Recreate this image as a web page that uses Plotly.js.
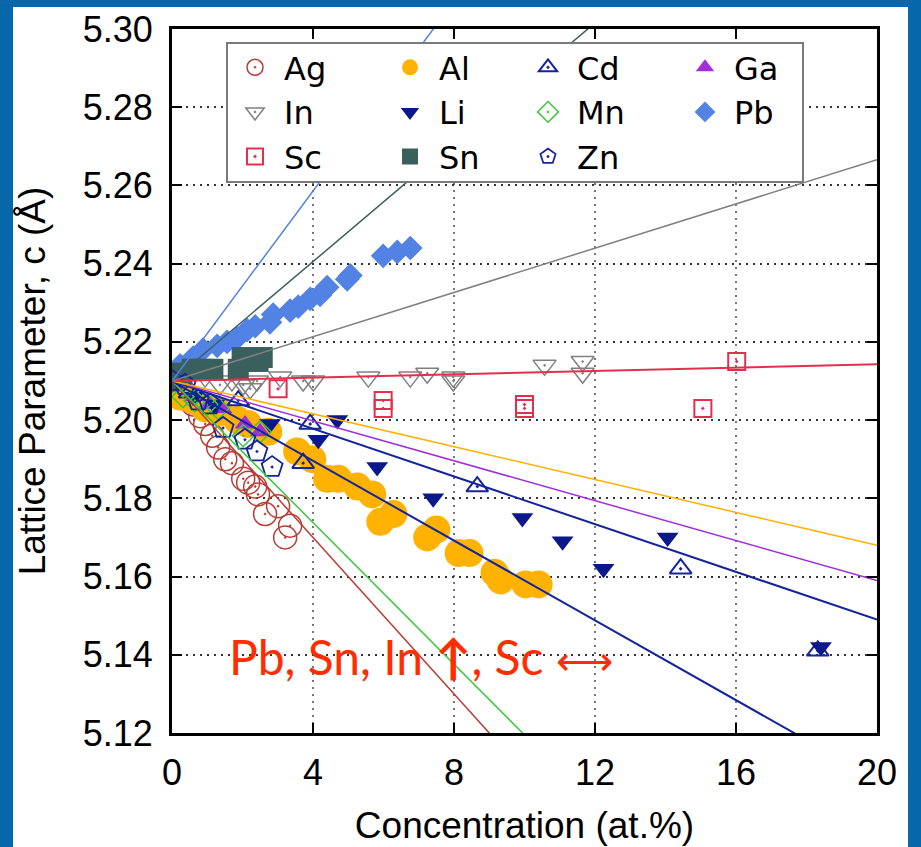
<!DOCTYPE html>
<html>
<head>
<meta charset="utf-8">
<script src="https://cdn.plot.ly/plotly-3.0.1.min.js"></script>
<style>html,body{margin:0;padding:0;background:#0767ab;}</style>
</head>
<body>
<div id="chart" style="width:921px;height:847px"></div>
<script>
// Measured c lattice parameter of Mg alloys vs solute concentration (at.%)
const agX = [0, 0.37, 0.60, 0.80, 0.94, 1.14, 1.31, 1.51, 1.70, 2.02, 2.16, 2.36, 2.44, 2.64, 3.01, 3.21, 3.35];
const agY = [5.210, 5.207, 5.204, 5.201, 5.199, 5.196, 5.193, 5.190, 5.189, 5.185, 5.184, 5.183, 5.181, 5.176, 5.178, 5.170, 5.173];

const alX = [0, 0.23, 0.60, 0.94, 1.36, 1.85, 2.16, 2.73, 3.55, 3.98, 4.40, 4.72, 5.26, 5.68, 5.91, 6.28, 7.24, 7.50, 8.13, 8.44, 9.15, 9.32, 10.03, 10.40];
const alY = [5.210, 5.206, 5.205, 5.203, 5.202, 5.200, 5.199, 5.197, 5.192, 5.190, 5.185, 5.185, 5.183, 5.181, 5.174, 5.176, 5.170, 5.172, 5.166, 5.166, 5.161, 5.159, 5.158, 5.158];

const cdX = [0, 0.50, 1.88, 3.72, 3.92, 8.66, 14.43, 18.32];
const cdY = [5.210, 5.207, 5.205, 5.189, 5.199, 5.183, 5.162, 5.141];

const gaX = [0, 0.65, 1.08, 1.42, 2.07, 2.50];
const gaY = [5.210, 5.206, 5.204, 5.203, 5.199, 5.197];

const inX = [0, 0.94, 1.36, 1.70, 2.02, 2.22, 2.41, 3.07, 3.72, 4.01, 5.57, 6.76, 7.24, 7.98, 7.98, 10.57, 11.65, 11.65];
const inY = [5.210, 5.211, 5.209, 5.210, 5.209, 5.208, 5.210, 5.211, 5.210, 5.210, 5.211, 5.211, 5.212, 5.211, 5.210, 5.214, 5.215, 5.212];

const liX = [0, 0.60, 1.20, 2.78, 4.15, 4.69, 5.82, 7.41, 9.94, 11.08, 12.24, 14.06, 18.41];
const liY = [5.210, 5.206, 5.204, 5.199, 5.195, 5.200, 5.188, 5.180, 5.175, 5.169, 5.162, 5.170, 5.142];

const mnX = [0, 0.31, 0.65, 0.99, 1.31, 2.02, 2.50];
const mnY = [5.210, 5.206, 5.205, 5.204, 5.203, 5.196, 5.197];

const pbX = [0, 0.23, 0.60, 0.88, 1.28, 1.56, 1.85, 2.13, 2.36, 2.78, 2.87, 3.35, 3.58, 3.92, 4.20, 4.40, 4.97, 5.06, 5.99, 6.39, 6.76];
const pbY = [5.210, 5.214, 5.216, 5.218, 5.219, 5.220, 5.221, 5.223, 5.224, 5.225, 5.227, 5.228, 5.229, 5.231, 5.232, 5.234, 5.236, 5.237, 5.242, 5.243, 5.244];

const scX = [0, 3.01, 5.99, 5.99, 10.00, 10.00, 15.06, 16.02];
const scY = [5.210, 5.208, 5.205, 5.203, 5.204, 5.203, 5.203, 5.215];

const snX = [0, 0.28, 0.57, 0.88, 1.16, 1.88, 1.99, 2.30, 2.44, 2.56];
const snY = [5.210, 5.212, 5.213, 5.213, 5.213, 5.213, 5.216, 5.215, 5.215, 5.216];

const znX = [0, 0.37, 0.74, 1.08, 1.45, 2.07, 2.41, 2.84];
const znY = [5.210, 5.209, 5.205, 5.204, 5.198, 5.195, 5.192, 5.188];

// Straight-line trends: value at pure Mg and value reached at 20 at.%
const trendX = [0, 20];
const trendStart = 5.210;
const trendNames = ['Ag', 'Mn', 'Zn', 'Li', 'Ga', 'Al', 'Sc', 'In', 'Sn', 'Pb'];
const trendEnd   = [5.010, 5.029, 5.108, 5.149, 5.159, 5.168, 5.2143, 5.2666, 5.3626, 5.4528];

// Series styling
const series = [
  {name: 'Ag', x: agX, y: agY, symbol: 'circle-open-dot',        color: '#b83c34', size: 23, lw: 1.5, legend: 'legend'},
  {name: 'Al', x: alX, y: alY, symbol: 'circle',                 color: '#ffb300', size: 28, lw: 0,   legend: 'legend2'},
  {name: 'Cd', x: cdX, y: cdY, symbol: 'triangle-up-open-dot',   color: '#14249a', size: 19, lw: 2,   legend: 'legend3'},
  {name: 'Ga', x: gaX, y: gaY, symbol: 'triangle-up',            color: '#a22ddc', size: 18, lw: 0,   legend: 'legend4'},
  {name: 'In', x: inX, y: inY, symbol: 'triangle-down-open-dot', color: '#808080', size: 20, lw: 1.5, legend: 'legend'},
  {name: 'Li', x: liX, y: liY, symbol: 'triangle-down',          color: '#0a188c', size: 19, lw: 0,   legend: 'legend2'},
  {name: 'Mn', x: mnX, y: mnY, symbol: 'diamond-open-dot',       color: '#3cc83c', size: 17, lw: 1.5, legend: 'legend3'},
  {name: 'Pb', x: pbX, y: pbY, symbol: 'diamond',                color: '#5282e4', size: 19, lw: 0,   legend: 'legend4'},
  {name: 'Sc', x: scX, y: scY, symbol: 'square-open-dot',        color: '#e0304e', size: 17, lw: 2,   legend: 'legend'},
  {name: 'Sn', x: snX, y: snY, symbol: 'square',                 color: '#3a605e', size: 21, lw: 0,   legend: 'legend2'},
  {name: 'Zn', x: znX, y: znY, symbol: 'pentagon-open-dot',      color: '#14249a', size: 22, lw: 1.8, legend: 'legend3'}
];

const trendColors = {
  Ag: '#b83c34', Mn: '#3cc83c', Zn: '#14249a', Li: '#14249a', Ga: '#a22ddc',
  Al: '#ffb000', Sc: '#e0304e', In: '#808080', Sn: '#3a605e', Pb: '#5282e4'
};
const trendWidths = {Ag: 1.5, Mn: 1.5, Zn: 2, Li: 2, Ga: 1.5, Al: 1.5, Sc: 2, In: 1.5, Sn: 1.5, Pb: 1.5};

const traces = [];
series.forEach(s => {
  traces.push({
    type: 'scatter', mode: 'markers', name: s.name, x: s.x, y: s.y,
    legend: s.legend,
    marker: {symbol: s.symbol, size: s.size, color: s.color,
             line: {color: s.color, width: s.lw}},
    cliponaxis: true
  });
});
trendNames.forEach((n, i) => {
  traces.push({
    type: 'scatter', mode: 'lines', name: n + ' trend', showlegend: false,
    x: trendX, y: [trendStart, trendEnd[i]],
    line: {color: trendColors[n], width: trendWidths[n]}
  });
});

const tickFont = {family: 'Liberation Sans, Arial, sans-serif', size: 36, color: '#000'};
const legendBase = {
  xanchor: 'left', yanchor: 'top', bgcolor: 'rgba(0,0,0,0)', borderwidth: 0,
  itemwidth: 48, tracegroupgap: 0,
  font: {family: 'DejaVu Sans, sans-serif', size: 32, color: '#000'}
};
const plotL = 172, plotR = 877, plotT = 29, plotB = 733;
const px2x = p => (p - plotL) / (plotR - plotL);
const px2y = p => (plotB - p) / (plotB - plotT);

const layout = {
  width: 921, height: 847,
  paper_bgcolor: '#0767ab', plot_bgcolor: '#ffffff',
  margin: {l: plotL, r: 921 - plotR, t: plotT, b: 847 - plotB, pad: 0},
  showlegend: true,
  hovermode: false,
  xaxis: {
    range: [0, 20], tickvals: [0, 4, 8, 12, 16, 20], ticktext: ['0', '4', '8', '12', '16', '20'],
    ticks: 'inside', ticklen: 10, tickwidth: 2, tickcolor: '#000',
    showline: true, linewidth: 3, linecolor: '#000', mirror: 'ticks',
    showgrid: true, gridcolor: '#777', gridwidth: 2, griddash: '2px,5px',
    zeroline: false, tickfont: tickFont, ticklabelstandoff: 6,
    title: {text: 'Concentration (at.%)', font: {family: 'Liberation Sans, Arial, sans-serif', size: 37, color: '#000'}, standoff: 20}
  },
  yaxis: {
    range: [5.12, 5.30], dtick: 0.02, tick0: 5.12, tickformat: '.2f',
    ticks: 'inside', ticklen: 10, tickwidth: 2, tickcolor: '#000',
    showline: true, linewidth: 3, linecolor: '#000', mirror: 'ticks',
    showgrid: true, gridcolor: '#333', gridwidth: 2, griddash: '2px,5px',
    zeroline: false, tickfont: tickFont, ticklabelstandoff: 9,
    title: {text: 'Lattice Parameter, c (Å)', font: {family: 'Liberation Sans, Arial, sans-serif', size: 37, color: '#000'}, standoff: 26}
  },
  legend:  Object.assign({}, legendBase, {x: px2x(226), y: px2y(40)}),
  legend2: Object.assign({}, legendBase, {x: px2x(381), y: px2y(40)}),
  legend3: Object.assign({}, legendBase, {x: px2x(519), y: px2y(40)}),
  legend4: Object.assign({}, legendBase, {x: px2x(676), y: px2y(40)}),
  shapes: [
    // white card behind the whole figure, inside the blue frame
    {type: 'rect', xref: 'paper', yref: 'paper', layer: 'below',
     x0: px2x(13), x1: px2x(908), y0: px2y(900), y1: px2y(7),
     fillcolor: '#ffffff', line: {width: 0}},
    // key box
    {type: 'rect', xref: 'paper', yref: 'paper', layer: 'above',
     x0: px2x(227), x1: px2x(803), y0: px2y(182), y1: px2y(43),
     fillcolor: '#ffffff', line: {color: '#7a7a7a', width: 2}}
  ],
  annotations: [
    {xref: 'x', yref: 'y', x: 1.55, y: 5.1395, xanchor: 'left', yanchor: 'middle', showarrow: false,
     text: 'Pb, Sn, In <b>↑</b>, Sc <span style="font-size:40px">⟷</span>',
     font: {family: 'Lato, sans-serif', size: 48, color: '#ff2d00'}}
  ]
};

Plotly.newPlot('chart', traces, layout, {staticPlot: true, displayModeBar: false});
</script>
</body>
</html>
